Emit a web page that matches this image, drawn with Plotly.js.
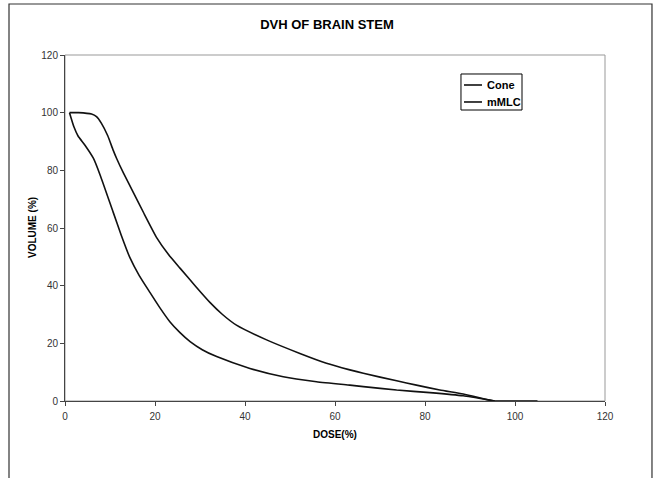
<!DOCTYPE html>
<html>
<head>
<meta charset="utf-8">
<script src="https://cdn.plot.ly/plotly-3.0.1.min.js"></script>
<style>html,body{margin:0;padding:0;background:#fff;}#chart{width:662px;height:478px;}</style>
</head>
<body>
<div id="chart"></div>
<script>
const coneDose = [1, 2, 2.9, 4.4, 6.3, 7.8, 10.7, 12.5, 14.4, 16.5, 18.9, 21.1, 23.3, 25.5, 27.8, 30.5, 33.7, 41.1, 48.5, 55.9, 63.3, 66.3, 73.7, 81.1, 88.5, 94.4, 95.5];
const coneVol  = [100, 95, 91.9, 88.8, 84.2, 78.4, 65.5, 57.5, 49.8, 43.5, 37.6, 32.3, 27.5, 23.8, 20.6, 17.8, 15.4, 11.3, 8.4, 6.7, 5.5, 5.0, 3.8, 2.9, 1.8, 0.3, 0];
const mmlcDose = [1, 3, 5.9, 7, 8.1, 9.5, 10.7, 11.5, 13, 15.2, 17.5, 20.4, 23, 25.6, 29, 32.2, 35, 38.1, 44.8, 52.2, 58.1, 63.3, 66.3, 73.7, 78.1, 83.3, 88.5, 94.4, 95.5, 105];
const mmlcVol  = [100, 100, 99.5, 98.6, 96.3, 92, 87, 84, 79, 72.3, 65.2, 56.6, 50.8, 46, 39.8, 34.2, 30.0, 26.3, 21.2, 16.5, 13.1, 10.8, 9.6, 7.0, 5.5, 3.8, 2.4, 0.3, 0, 0];
const seriesNames = ["Cone", "mMLC"];
const tickVals = [0, 20, 40, 60, 80, 100, 120];

const FONT = "Arial, Liberation Sans, sans-serif";
const lineStyle = {color: "#111", width: 1.6, shape: "spline", smoothing: 0.5};
const traces = [
  {x: coneDose, y: coneVol, name: seriesNames[0], mode: "lines", line: lineStyle},
  {x: mmlcDose, y: mmlcVol, name: seriesNames[1], mode: "lines", line: lineStyle}
];

const axisCommon = {
  range: [0, 120], tickvals: tickVals, ticktext: tickVals.map(String),
  showgrid: false, zeroline: false, showline: true, linecolor: "#444", linewidth: 1,
  ticks: "outside", ticklen: 4, tickcolor: "#444",
  tickfont: {family: FONT, size: 10, color: "#333"},
  fixedrange: true
};

// legend box drawn in paper units of the plot area
const legX0 = 0.7333, legX1 = 0.8463, legY0 = 0.8410, legY1 = 0.9451;
const legRows = [0.9133, 0.8642];
const shapes = [
  {type: "rect", xref: "paper", yref: "paper", x0: 0, x1: 1, y0: 0, y1: 1, line: {color: "#999", width: 1}, layer: "below"},
  {type: "rect", xref: "paper", yref: "paper", x0: -0.1037, x1: 1.087, y0: -0.3, y1: 1.1474, line: {color: "#333", width: 1.2}},
  {type: "rect", xref: "paper", yref: "paper", x0: legX0, x1: legX1, y0: legY0, y1: legY1, line: {color: "#000", width: 1}, fillcolor: "#fff"}
];
const annotations = [
  {text: "<b>DOSE(%)</b>", xref: "paper", yref: "paper", x: 0.5, y: 0, yshift: -33, showarrow: false,
   xanchor: "center", yanchor: "middle", font: {family: FONT, size: 10, color: "#000"}},
  {text: "<b>VOLUME (%)</b>", xref: "paper", yref: "paper", x: 0, xshift: -33, y: 0.5, showarrow: false,
   textangle: -90, xanchor: "center", yanchor: "middle", font: {family: FONT, size: 10, color: "#000"}}
];
seriesNames.forEach((name, i) => {
  shapes.push({type: "line", xref: "paper", yref: "paper", x0: 0.7389, x1: 0.7722, y0: legRows[i], y1: legRows[i],
               line: {color: "#111", width: 1.6}});
  annotations.push({text: "<b>" + name + "</b>", xref: "paper", yref: "paper", x: 0.7778, y: legRows[i],
                    xanchor: "left", yanchor: "middle", showarrow: false,
                    font: {family: FONT, size: 11, color: "#000"}});
});

const layout = {
  width: 662, height: 478,
  margin: {l: 65, r: 57, t: 55, b: 77},
  paper_bgcolor: "#fff", plot_bgcolor: "#fff",
  showlegend: false,
  title: {text: "<b>DVH OF BRAIN STEM</b>", x: 0.494, xanchor: "center", y: 0.948, yanchor: "middle",
          font: {family: FONT, size: 13, color: "#000"}},
  xaxis: Object.assign({}, axisCommon, {ticklabelstandoff: 2}),
  yaxis: Object.assign({}, axisCommon),
  annotations: annotations,
  shapes: shapes
};

Plotly.newPlot("chart", traces, layout, {displayModeBar: false, staticPlot: true});
</script>
</body>
</html>
